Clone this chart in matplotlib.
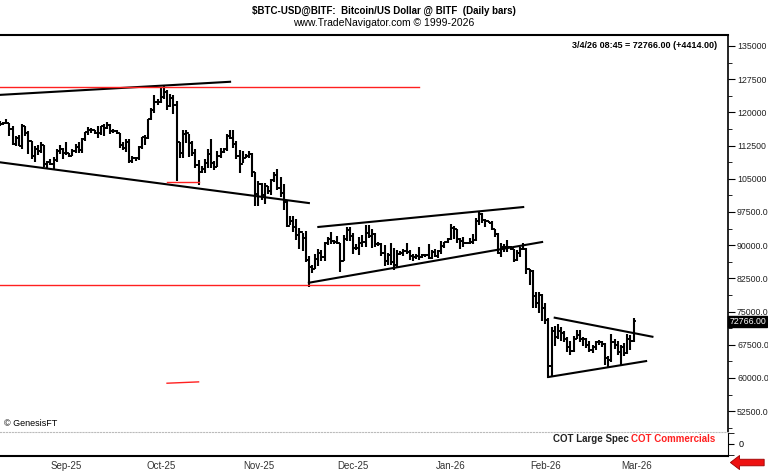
import numpy as np
import pandas as pd
import matplotlib
matplotlib.use("Agg")
import matplotlib.pyplot as plt
import matplotlib.dates as mdates

# ---------------------------------------------------------------------------
# Daily bars, Aug 15 2025 .. Mar 4 2026 (thousands of USD)
# ---------------------------------------------------------------------------
START = "2025-08-15"
closes = [
    117.4, 117.5, 117.5, 116.3, 112.9, 114.3, 112.5, 116.9, 115.4, 113.5, 110.1, 111.8, 111.2, 112.6, 108.4, 108.8, 108.3,
    109.2, 111.2, 111.7, 110.7, 110.7, 110.2, 111.2, 112.1, 111.5, 113.9, 115.5, 116.1, 115.9, 115.3, 115.4,
    116.8, 116.5, 117.1, 115.7, 115.7, 115.3, 112.7, 112.0, 113.3, 109.0, 109.7, 109.7, 112.1, 114.4, 114.1,
    118.6, 120.6, 122.3, 122.4, 123.5, 124.7, 121.4, 123.3, 121.7, 113.2, 110.7, 115.2, 115.3, 113.1, 110.8,
    108.2, 106.5, 107.2, 108.6, 110.6, 108.5, 107.6, 110.1, 111.0, 111.6, 114.6, 114.1, 112.9, 110.1, 108.3, 109.6,
    110.1, 110.6, 106.5, 101.6, 103.9, 101.3, 103.4, 102.3, 104.7, 105.9, 103.0, 101.7, 99.7, 94.4, 95.5,
    94.2, 92.2, 92.9, 91.5, 86.6, 85.1, 84.7, 86.8, 88.3, 87.3, 90.5, 91.3, 90.9, 90.8, 90.4,
    86.3, 91.3, 93.5, 92.1, 89.4, 89.3, 90.4, 90.6, 92.7, 92.0, 92.5, 90.3, 90.3, 88.2, 86.4, 87.8,
    86.2, 85.5, 88.1, 88.3, 88.6, 88.5, 87.6, 87.4, 87.6, 87.3, 87.8, 87.8, 87.1, 88.4, 87.5,
    88.7, 89.9, 90.6, 91.4, 93.9, 93.7, 91.3, 91.0, 90.5, 90.4, 90.8, 91.1, 95.5, 97.0, 95.6, 95.5,
    95.1, 93.6, 92.5, 88.3, 89.5, 89.5, 89.5, 89.1, 86.6, 88.3, 89.1, 89.2, 84.5, 84.1, 78.6,
    76.9, 78.7, 75.8, 73.0, 62.7, 70.5, 69.3, 70.5, 70.1, 68.8, 67.0, 66.0, 68.9, 69.8,
    68.8, 68.8, 67.5, 66.4, 66.9, 68.0, 68.0, 67.7, 64.6, 64.0, 68.0, 67.5, 65.9, 67.0,
    65.7, 68.8, 68.4, 72.766,
]
highs = [
    118.0, 117.9, 118.6, 117.6, 117.0, 114.6, 114.8, 117.4, 117.0, 115.7, 113.6, 112.4, 112.6, 113.4, 112.7, 108.9, 109.5,
    109.8, 111.6, 112.6, 112.0, 113.3, 110.9, 111.6, 112.9, 113.2, 114.3, 115.6, 116.6, 116.4, 116.1, 116.8,
    117.0, 117.3, 117.9, 117.4, 116.2, 115.9, 115.4, 113.3, 114.0, 113.9, 110.2, 109.8, 112.3, 114.4, 114.8,
    118.6, 121.0, 123.9, 122.9, 125.6, 126.2, 125.0, 124.1, 123.8, 122.5, 113.4, 115.9, 116.0, 115.0, 113.6,
    111.7, 109.2, 107.9, 109.4, 111.7, 113.9, 109.0, 111.2, 112.0, 111.9, 115.0, 116.1, 116.0, 113.6, 111.5, 111.2,
    110.6, 111.2, 110.7, 106.6, 104.5, 104.1, 104.0, 103.4, 104.9, 106.6, 107.3, 105.3, 103.9, 99.9, 96.6,
    96.6, 96.0, 93.8, 92.8, 93.1, 87.5, 85.6, 88.0, 89.1, 88.8, 90.6, 91.9, 92.9, 91.2, 92.0,
    90.4, 92.3, 94.1, 94.1, 92.7, 90.3, 91.8, 92.3, 94.6, 94.5, 93.6, 92.8, 90.6, 90.5, 90.1, 88.2,
    90.4, 89.4, 89.0, 88.6, 89.1, 90.5, 88.9, 88.0, 88.1, 89.6, 88.0, 88.0, 90.3, 89.0, 89.2,
    88.9, 90.9, 90.8, 91.7, 94.8, 94.3, 93.6, 91.5, 91.9, 90.7, 91.5, 92.4, 96.2, 97.8, 97.3, 95.8,
    95.5, 95.5, 93.6, 92.8, 90.4, 90.3, 91.2, 89.9, 89.2, 88.9, 89.5, 90.5, 89.4, 84.7, 84.3,
    79.5, 79.3, 79.0, 76.9, 73.5, 71.5, 71.7, 72.2, 71.4, 70.5, 69.3, 68.4, 69.5, 70.8,
    70.9, 69.2, 69.1, 68.4, 67.4, 68.4, 68.6, 68.3, 67.9, 65.0, 70.0, 68.8, 68.3, 67.4,
    67.8, 70.0, 69.7, 73.6,
]
lows = [
    116.9, 117.2, 117.3, 114.7, 112.7, 112.4, 112.4, 111.7, 114.6, 110.6, 109.4, 108.8, 110.4, 110.9, 107.6, 107.4, 108.1,
    107.3, 108.8, 110.5, 109.4, 110.3, 110.0, 110.2, 110.7, 110.9, 110.9, 113.5, 114.8, 115.3, 115.1, 114.3,
    114.8, 114.7, 116.2, 115.2, 115.4, 115.1, 112.0, 111.5, 111.1, 108.6, 108.6, 109.0, 109.2, 111.6, 112.7,
    113.9, 118.2, 119.9, 121.6, 122.0, 123.1, 120.6, 121.1, 119.7, 104.5, 109.6, 109.7, 113.0, 110.0, 110.2,
    107.5, 103.6, 106.4, 106.2, 107.4, 107.5, 106.9, 107.6, 109.7, 110.9, 111.3, 113.9, 111.9, 109.4, 106.3, 108.5,
    109.6, 109.6, 105.3, 98.9, 98.9, 100.3, 99.3, 101.5, 101.4, 104.3, 102.5, 100.8, 98.0, 94.0, 94.6,
    93.0, 91.2, 89.2, 88.6, 86.1, 80.6, 83.6, 84.7, 85.3, 86.3, 86.4, 90.1, 90.2, 90.2, 90.3,
    83.9, 86.3, 91.0, 91.0, 88.1, 88.9, 87.8, 89.6, 89.5, 91.6, 89.3, 89.6, 89.8, 87.6, 85.2, 85.4,
    85.4, 84.4, 85.1, 87.8, 87.6, 87.9, 86.6, 86.4, 86.9, 86.7, 87.1, 87.4, 86.8, 86.8, 87.3,
    87.2, 88.1, 89.3, 90.5, 91.1, 91.3, 90.5, 89.2, 89.6, 90.2, 90.3, 90.2, 91.0, 94.5, 95.1, 94.2,
    94.9, 93.5, 91.9, 87.9, 87.3, 88.5, 88.4, 89.0, 86.1, 86.5, 87.4, 88.8, 83.4, 81.1, 75.7,
    75.7, 74.6, 72.9, 72.1, 60.0, 60.3, 67.3, 68.8, 68.4, 68.2, 65.8, 65.2, 65.8, 68.7,
    68.2, 67.3, 66.7, 65.9, 65.7, 66.4, 67.4, 67.0, 62.9, 62.5, 63.6, 66.6, 65.1, 63.0,
    65.0, 65.4, 66.4, 68.2,
]

# Trend lines: (start date, start price, end date, end price), thousands
BLACK_LINES = [
    ("2025-08-14", 123.9, "2025-10-27", 126.9),
    ("2025-08-14", 108.8, "2025-11-21", 99.5),
    ("2025-11-24", 94.1, "2026-01-28", 98.6),
    ("2025-11-21", 81.5, "2026-02-03", 90.7),
    ("2026-02-07", 73.6, "2026-03-10", 69.3),
    ("2026-02-05", 60.2, "2026-03-08", 63.8),
]
RED_LINES = [
    ("2025-08-14", 125.7, "2025-12-26", 125.7),
    ("2025-08-14", 81.0, "2025-12-26", 81.0),
    ("2025-10-07", 104.3, "2025-10-17", 104.3),
    ("2025-10-07", 58.8, "2025-10-17", 59.1),
]

PRICE_TICKS = [135000, 127500, 120000, 112500, 105000, 97500, 90000, 82500, 75000, 67500, 60000, 52500]
PRICE_LABELS = ["135000", "127500", "120000", "112500", "105000", "97500.0", "90000.0",
                "82500.0", "75000.0", "67500.0", "60000.0", "52500.0"]
# month labels sit a few days into each month, as in the source chart
MONTH_LABEL_POS = ["2025-09-05", "2025-10-05", "2025-11-05", "2025-12-05", "2026-01-05", "2026-02-04", "2026-03-05"]
MONTH_LABELS = ["Sep-25", "Oct-25", "Nov-25", "Dec-25", "Jan-26", "Feb-26", "Mar-26"]

# ---------------------------------------------------------------------------
dates = pd.date_range(START, periods=len(closes), freq="D")
x = mdates.date2num(dates)
c = np.array(closes) * 1000
h = np.array(highs) * 1000
l = np.array(lows) * 1000
o = np.concatenate([[c[0]], c[:-1]])

plt.rcParams["font.family"] = ["Liberation Sans", "DejaVu Sans"]
fig = plt.figure(figsize=(7.68, 4.71), dpi=100)
ax = fig.add_axes([0.0, 0.083, 0.948, 0.843])
ax2 = fig.add_axes([0.0, 0.032, 0.948, 0.051], sharex=ax)

ax.vlines(x, l, h, color="black", lw=1.5)
ax.hlines(o, x - 0.7, x, color="black", lw=1.3)
ax.hlines(c, x, x + 0.7, color="black", lw=1.3)

def d2n(s):
    return mdates.date2num(pd.Timestamp(s))

for d0, p0, d1, p1 in BLACK_LINES:
    ax.plot([d2n(d0), d2n(d1)], [p0 * 1000, p1 * 1000], color="black", lw=1.5)
for d0, p0, d1, p1 in RED_LINES:
    ax.plot([d2n(d0), d2n(d1)], [p0 * 1000, p1 * 1000], color="#ff2020", lw=1.0)

ax.set_xlim(d2n("2025-08-15"), d2n("2026-04-03"))
ax.set_ylim(47800, 137500)
ax.yaxis.tick_right()
ax.set_yticks(PRICE_TICKS)
ax.set_yticklabels(PRICE_LABELS, fontsize=6.3, color="#222222")
ax.set_yticks(np.arange(48750, 137500, 3750), minor=True)
ax.tick_params(axis="y", which="major", length=5, direction="out", pad=1.5)
ax.tick_params(axis="y", which="minor", length=3, direction="out")
ax.tick_params(axis="x", bottom=False, labelbottom=False)
for s in ["left", "bottom"]:
    ax.spines[s].set_visible(False)
ax.spines["top"].set_linewidth(1.5)
ax.spines["right"].set_linewidth(1.2)

ax.text(0.985, 0.985, "3/4/26 08:45 = 72766.00 (+4414.00)", transform=ax.transAxes,
        ha="right", va="top", fontsize=6.5, weight="bold")
ax.text(0.005, 0.01, "© GenesisFT", transform=ax.transAxes, ha="left", va="bottom", fontsize=6.5)
ax.text(1.002, 72766, "72766.00", transform=ax.get_yaxis_transform(), ha="left", va="center",
        fontsize=6.3, color="white", bbox=dict(boxstyle="square,pad=0.12", fc="black", ec="black"))

ax2.set_ylim(-1, 1)
ax2.yaxis.tick_right()
ax2.set_yticks([0])
ax2.set_yticklabels(["0"], fontsize=6.5)
ax2.set_yticks([-0.9, 0.9], minor=True)
ax2.tick_params(axis="y", which="both", length=4)
ax2.set_xticks([d2n(m) for m in MONTH_LABEL_POS])
ax2.set_xticklabels(MONTH_LABELS, fontsize=7, color="#333333")
ax2.tick_params(axis="x", length=0, pad=4)
ax2.spines["left"].set_visible(False)
ax2.spines["top"].set_linestyle(":")
ax2.spines["top"].set_color("#bbbbbb")
ax2.spines["bottom"].set_linewidth(1.5)
ax2.text(0.864, 0.72, "COT Large Spec", transform=ax2.transAxes, ha="right", va="center",
         fontsize=7, weight="bold", color="#222222")
ax2.text(0.983, 0.72, "COT Commercials", transform=ax2.transAxes, ha="right", va="center",
         fontsize=7, weight="bold", color="#ff2020")

fig.text(0.5, 0.988, "$BTC-USD@BITF:  Bitcoin/US Dollar @ BITF  (Daily bars)", ha="center",
         va="top", fontsize=7, weight="bold")
fig.text(0.5, 0.962, "www.TradeNavigator.com © 1999-2026", ha="center", va="top", fontsize=7.5)
fig.patches.append(matplotlib.patches.FancyArrow(0.995, 0.018, -0.032, 0, width=0.014,
                   head_width=0.03, head_length=0.012, transform=fig.transFigure,
                   fc="#ee1111", ec="#990000", lw=0.6))

fig.savefig("out.png", dpi=100)
